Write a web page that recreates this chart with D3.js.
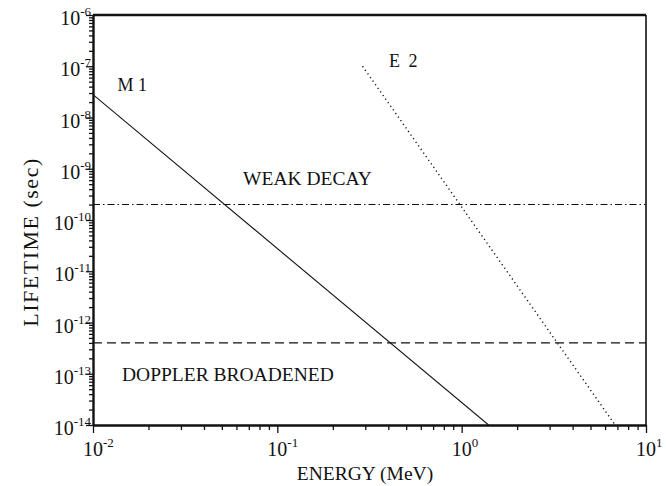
<!DOCTYPE html>
<html>
<head>
<meta charset="utf-8">
<script src="https://cdn.jsdelivr.net/npm/d3@7"></script>
<style>
  html, body { margin: 0; padding: 0; background: #fff; }
  svg { display: block; }
  text { fill: #111; }
</style>
</head>
<body>
<svg id="chart" width="666" height="486"></svg>
<script>
// Axis decades (powers of ten)
const energyDecades = [-2, -1, 0, 1];
const lifetimeDecades = [-6, -7, -8, -9, -10, -11, -12, -13, -14];

// Multipole lifetime curves: endpoints of straight lines in log-log space
const m1Energy = [0.01, 1.4];
const m1Lifetime = [2.8e-8, 1e-14];
const e2Energy = [0.29, 6.8];
const e2Lifetime = [1e-7, 1e-14];

// Horizontal reference lifetimes
const weakDecayLifetime = 2e-10;
const dopplerLifetime = 4e-13;

// Annotation labels, anchored in data coordinates [energy, lifetime]
const labelText = ["M 1", "E 2", "WEAK DECAY", "DOPPLER BROADENED"];
const labelEnergy = [0.0136, 0.404, 0.0652, 0.01436];
const labelLifetime = [3.3e-8, 9.7e-8, 4.8e-10, 7.2e-14];

const W = 666, H = 486;
const margin = { top: 15, right: 20, bottom: 61, left: 93 };
const iw = W - margin.left - margin.right;
const ih = H - margin.top - margin.bottom;

const svg = d3.select("#chart");
const g = svg.append("g").attr("transform", `translate(${margin.left},${margin.top})`);

const x = d3.scaleLog().domain([1e-2, 1e1]).range([0, iw]);
const y = d3.scaleLog().domain([1e-14, 1e-6]).range([ih, 0]);

// Minor + major tick values
function logTicks(decades) {
  const lo = d3.min(decades), hi = d3.max(decades);
  const vals = [];
  for (let e = lo; e <= hi; e++) {
    for (let m = 1; m <= 9; m++) {
      if (e === hi && m > 1) break;
      vals.push(m * Math.pow(10, e));
    }
  }
  return vals;
}
const isMajor = v => Math.abs(Math.log10(v) - Math.round(Math.log10(v))) < 1e-9;

// Frame
g.append("line").attr("x1", 0).attr("x2", iw).attr("y1", 0).attr("y2", 0)
  .attr("stroke", "#111").attr("stroke-width", 2.4);
g.append("line").attr("x1", iw).attr("x2", iw).attr("y1", 0).attr("y2", ih)
  .attr("stroke", "#111").attr("stroke-width", 1.6);

// X axis
const xAxis = g.append("g").attr("transform", `translate(0,${ih})`)
  .call(d3.axisBottom(x).tickValues(logTicks(energyDecades)).tickFormat("").tickSizeOuter(0));
xAxis.select(".domain").attr("stroke", "#111").attr("stroke-width", 2.4);
xAxis.selectAll(".tick line")
  .attr("stroke", "#111").attr("stroke-width", 1.3)
  .attr("y2", d => isMajor(d) ? 8 : 5);

// Y axis
const yAxis = g.append("g")
  .call(d3.axisLeft(y).tickValues(logTicks(lifetimeDecades)).tickFormat("").tickSizeOuter(0));
yAxis.select(".domain").attr("stroke", "#111").attr("stroke-width", 2.4);
yAxis.selectAll(".tick line")
  .attr("stroke", "#111").attr("stroke-width", 1.3)
  .attr("x2", d => isMajor(d) ? -7 : -4);

// Power-of-ten tick labels
const serif = "'Liberation Serif', 'Times New Roman', serif";
function powerLabel(sel, e) {
  sel.append("tspan").text("10");
  sel.append("tspan").attr("dy", -9).attr("font-size", 13).text(e < 0 ? "-" + (-e) : String(e));
}
energyDecades.forEach(e => {
  const t = g.append("text")
    .attr("x", x(Math.pow(10, e)) - 10)
    .attr("y", ih + 31)
    .attr("font-family", serif).attr("font-size", 20);
  powerLabel(t, e);
});
lifetimeDecades.forEach(e => {
  const t = g.append("text")
    .attr("x", -2)
    .attr("y", y(Math.pow(10, e)) + 10)
    .attr("text-anchor", "end")
    .attr("font-family", serif).attr("font-size", 20);
  powerLabel(t, e);
});

// Axis titles
svg.append("text")
  .attr("x", 365).attr("y", 480)
  .attr("text-anchor", "middle")
  .attr("font-family", serif).attr("font-size", 19.5)
  .text("ENERGY (MeV)");
svg.append("text")
  .attr("transform", `translate(38,${242}) rotate(-90)`)
  .attr("text-anchor", "middle")
  .attr("font-family", serif).attr("font-size", 22)
  .attr("letter-spacing", 1.5)
  .text("LIFETIME (sec)");

// Clip to plot area
svg.append("defs").append("clipPath").attr("id", "plot")
  .append("rect").attr("width", iw).attr("height", ih);
const plot = g.append("g").attr("clip-path", "url(#plot)");

const line = d3.line().x(d => x(d[0])).y(d => y(d[1]));

// Reference lines
plot.append("path")
  .datum([[1e-2, weakDecayLifetime], [1e1, weakDecayLifetime]])
  .attr("d", line).attr("fill", "none")
  .attr("stroke", "#111").attr("stroke-width", 1.1)
  .attr("stroke-dasharray", "7,3,1.5,3");
plot.append("path")
  .datum([[1e-2, dopplerLifetime], [1e1, dopplerLifetime]])
  .attr("d", line).attr("fill", "none")
  .attr("stroke", "#111").attr("stroke-width", 1.1)
  .attr("stroke-dasharray", "9,5");

// M1 (solid) and E2 (dotted) lifetimes
plot.append("path")
  .datum(d3.zip(m1Energy, m1Lifetime))
  .attr("d", line).attr("fill", "none")
  .attr("stroke", "#111").attr("stroke-width", 1.1);
plot.append("path")
  .datum(d3.zip(e2Energy, e2Lifetime))
  .attr("d", line).attr("fill", "none")
  .attr("stroke", "#111").attr("stroke-width", 1.4)
  .attr("stroke-dasharray", "1.2,3.2");

// Annotations
labelText.forEach((s, i) => {
  g.append("text")
    .attr("x", x(labelEnergy[i]))
    .attr("y", y(labelLifetime[i]))
    .attr("font-family", serif)
    .attr("font-size", s.length <= 3 ? 18 : 19.5)
    .attr("letter-spacing", s === "E 2" ? 2 : 0)
    .text(s);
});
</script>
</body>
</html>
